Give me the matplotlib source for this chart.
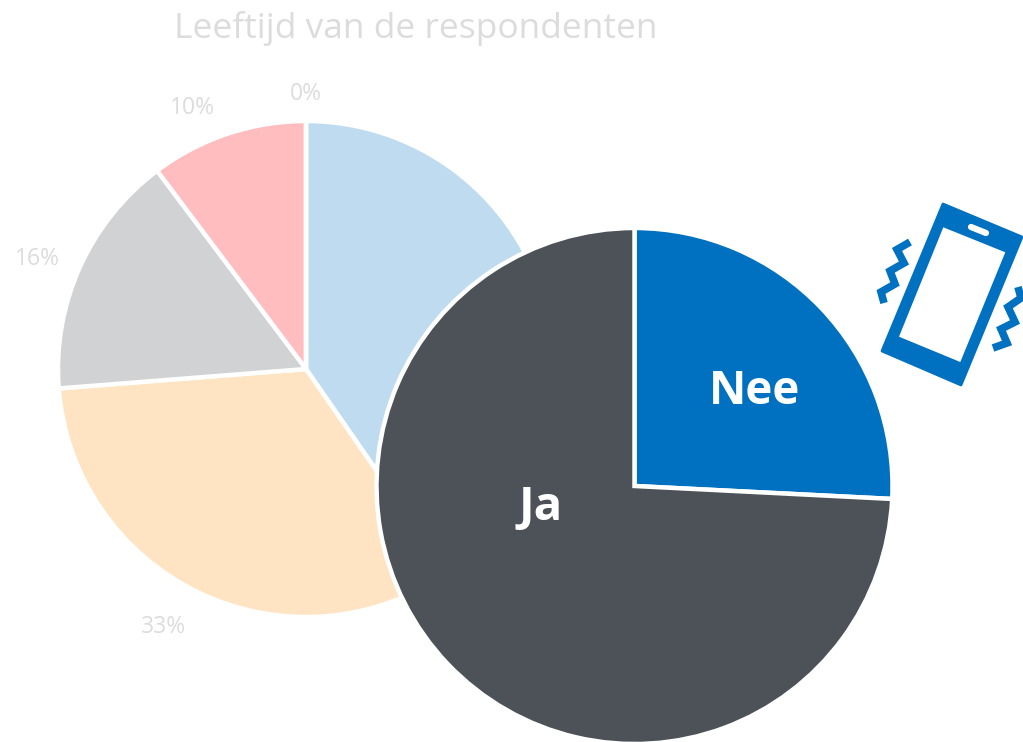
import matplotlib
matplotlib.use("Agg")
import matplotlib.pyplot as plt

plt.rcParams["font.family"] = ["Open Sans", "DejaVu Sans"]

W, H = 1023, 742

# age groups, clockwise from the top
leeftijd_waarden = [40.35, 33.4, 16.0, 10.25, 0]
leeftijd_kleuren = ["#BFDBF0", "#FEE4C3", "#D1D2D4", "#FFBDBF", "#FFFFFF"]

# phone use
antwoorden = ["Nee", "Ja"]
antwoord_waarden = [25.8, 74.2]
antwoord_kleuren = ["#0071C1", "#4D5259"]

titel = "Leeftijd van de respondenten"
grijs = "#DCDCDC"
blauw = "#0071C1"


def new_ax(z):
    # axes over the whole figure, one unit is one pixel, y points up
    ax = fig.add_axes([0, 0, 1, 1], zorder=z)
    ax.patch.set_visible(False)
    return ax


def fix_ax(ax):
    ax.set_xlim(0, W)
    ax.set_ylim(0, H)
    ax.set_aspect("auto")
    ax.axis("off")


fig = plt.figure(figsize=(W / 100, H / 100), dpi=100, facecolor="white")

# left pie
ax1 = new_ax(1)
wedges, texts, pcts = ax1.pie(
    leeftijd_waarden, colors=leeftijd_kleuren, center=(306, H - 369), radius=248,
    startangle=90, counterclock=False, frame=True,
    wedgeprops={"edgecolor": "white", "linewidth": 3.2},
    autopct="%.0f%%", pctdistance=1.17,
    textprops={"color": grijs, "fontsize": 16.5},
)
# label spots
label_plek = [(584, 288), (163, 627), (37, 259), (192, 108), (306, 94)]
for t, p in zip(pcts, label_plek):
    t.set_position((p[0], H - p[1]))
fix_ax(ax1)
ax1.text(416, H - 28, titel, color=grijs, fontsize=25.5, ha="center", va="center")

# right pie on top of the left one
ax2 = new_ax(2)
ax2.pie(
    antwoord_waarden, colors=antwoord_kleuren, center=(634.5, H - 486), radius=258,
    startangle=90, counterclock=False, frame=True,
    wedgeprops={"edgecolor": "white", "linewidth": 3.2},
)
fix_ax(ax2)
ax2.text(755, H - 392, antwoorden[0], color="white", fontsize=33, fontweight="bold", ha="center", va="center")
ax2.text(541, H - 508, antwoorden[1], color="white", fontsize=34, fontweight="bold", ha="center", va="center")

# phone icon
ax3 = new_ax(3)
telefoon = [(943, 204), (1022, 237), (961, 385), (882, 351)]
scherm = [(943.3, 227.3), (1005.3, 252.3), (960.3, 362), (899, 336.7)]
ax3.fill([p[0] for p in telefoon], [H - p[1] for p in telefoon], color=blauw, lw=2, joinstyle="round")
ax3.fill([p[0] for p in scherm], [H - p[1] for p in scherm], color="white", lw=0)
ax3.plot([971, 986], [H - 227, H - 233], color="white", lw=4.5, solid_capstyle="round")
links = [(910, 242), (897, 249.5), (904, 263), (890, 271), (895, 284), (881, 292), (884, 303)]
rechts = [(1018, 287), (1021, 298), (1008, 307), (1015, 322), (1001, 329), (1007, 343), (993, 348)]
for zig in (links, rechts):
    ax3.plot([p[0] for p in zig], [H - p[1] for p in zig], color=blauw, lw=5.5,
             solid_joinstyle="miter", solid_capstyle="butt")
fix_ax(ax3)

fig.savefig("out.png", dpi=100)
